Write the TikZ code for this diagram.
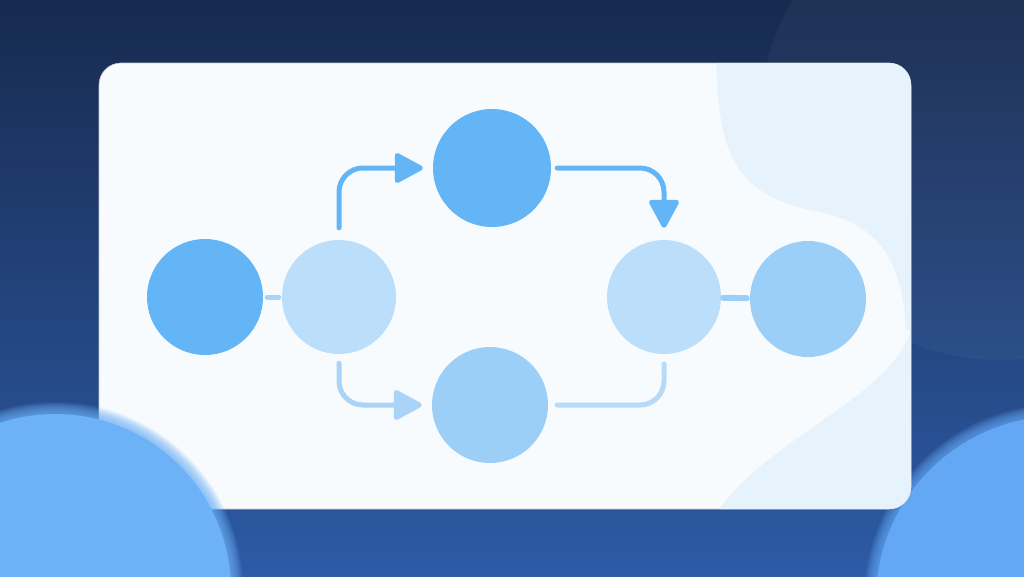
\documentclass[tikz,border=0pt]{standalone}
\usetikzlibrary{arrows.meta}
\definecolor{bgtop}{HTML}{172A4F}
\definecolor{bgbot}{HTML}{2D5BA6}
\definecolor{cardfill}{HTML}{F7FBFE}
\definecolor{cardglow}{HTML}{E6F2FC}
\definecolor{blobleft}{HTML}{6DB1F7}
\definecolor{blobright}{HTML}{64A8F5}
\definecolor{deepblue}{HTML}{64B5F6}
\definecolor{midblue}{HTML}{9CCFF8}
\definecolor{paleblue}{HTML}{BBDEFB}
\definecolor{linkpale}{HTML}{A9D4F8}
\definecolor{linkfaint}{HTML}{B5DBFA}
\tikzset{
	bubble/.style={circle, minimum size=116pt, inner sep=0pt, draw=none},
	link/.style={line width=5pt, line cap=round, rounded corners=24pt},
	tip/.style={-{Triangle[length=31pt, width=32pt, round]}},
}
\begin{document}
\begin{tikzpicture}[x=1pt, y=-1pt]
	\useasboundingbox (0,0) rectangle (1024,576);
	\shade[top color=bgtop, bottom color=bgbot] (0,0) rectangle (1024,576);
	\fill[white, opacity=0.035] (1000,120) circle (240);
	\fill[blobright] (1060,600) circle (184);
	\foreach \k in {1,...,12}
		\fill[blobright, opacity=0.1] (1060,600) circle (184+\k);
	\fill[cardfill, draw=black!22, line width=0.6pt, rounded corners=22pt] (99,63) rectangle (911,509);
	\begin{scope}
		\clip[rounded corners=22pt] (99,63) rectangle (911,509);
		\fill[cardglow] (716,40) .. controls (716,160) and (735,195) .. (820,212) .. controls (880,225) and (902,260) .. (906,330) -- (930,330) -- (930,40) -- cycle;
		\fill[cardglow] (911,330) .. controls (890,400) and (760,440) .. (712,520) -- (930,520) -- cycle;
	\end{scope}
	\node[bubble, fill=deepblue] (start) at (205,297) {};
	\node[bubble, fill=paleblue, minimum size=114pt] (split) at (339,297) {};
	\node[bubble, fill=deepblue, minimum size=118pt] (upper) at (492,168) {};
	\node[bubble, fill=midblue] (lower) at (490,405) {};
	\node[bubble, fill=paleblue, minimum size=114pt] (merge) at (664,297) {};
	\node[bubble, fill=midblue] (finish) at (808,299) {};
	\draw[link, linkpale, shorten <=4pt, shorten >=3pt] (start) -- (split);
	\draw[link, midblue, line width=6pt, shorten <=2pt, shorten >=3pt] (merge) -- (finish);
	\draw[link, tip, deepblue, shorten <=12pt, shorten >=10pt] (split.north) |- (upper.west);
	\draw[link, tip, deepblue, shorten <=6pt, shorten >=12pt] (upper.east) -| (merge.north);
	\draw[link, tip, linkpale, shorten <=9pt, shorten >=10pt] (split.south) |- (lower.west);
	\draw[link, linkfaint, shorten <=9pt, shorten >=10pt] (lower.east) -| (merge.south);
	\fill[blobleft] (55,590) circle (176);
	\foreach \k in {1,...,12}
		\fill[blobleft, opacity=0.1] (55,590) circle (176+\k);
\end{tikzpicture}
\end{document}
